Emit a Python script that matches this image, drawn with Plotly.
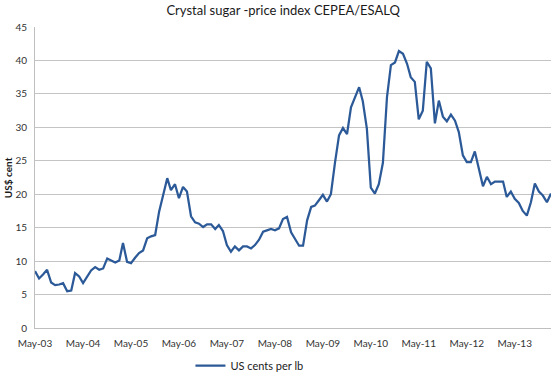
import plotly.graph_objects as go
import pandas as pd

start_month = "2003-05-01"
values = [
    8.5, 7.4, 8.0, 8.7, 6.8, 6.4, 6.5, 6.7, 5.5, 5.6, 8.2, 7.7,
    6.7, 7.6, 8.6, 9.1, 8.7, 8.9, 10.4, 10.1, 9.8, 10.1, 12.7, 9.9,
    9.7, 10.5, 11.2, 11.6, 13.4, 13.7, 13.9, 17.4, 19.9, 22.4, 20.6, 21.5,
    19.4, 21.1, 20.4, 16.7, 15.8, 15.6, 15.1, 15.5, 15.5, 14.8, 15.4, 14.5,
    12.4, 11.4, 12.2, 11.6, 12.2, 12.2, 11.9, 12.4, 13.2, 14.4, 14.6, 14.8,
    14.6, 14.9, 16.3, 16.6, 14.3, 13.3, 12.3, 12.3, 16.1, 18.1, 18.3, 19.1,
    19.9, 18.9, 20.0, 24.7, 28.8, 29.9, 29.0, 33.0, 34.6, 36.0, 33.9, 29.8,
    21.0, 20.1, 21.5, 24.7, 34.5, 39.3, 39.7, 41.4, 41.0, 39.5, 37.5, 36.8,
    31.2, 32.5, 39.8, 38.8, 30.6, 34.0, 31.6, 30.9, 31.9, 31.0, 29.3, 25.8,
    24.8, 24.8, 26.4, 23.8, 21.2, 22.6, 21.5, 21.9, 21.9, 21.9, 19.6, 20.4,
    19.3, 18.7, 17.5, 16.8, 18.8, 21.6, 20.4, 19.8, 18.8, 20.1,
]
dates = pd.date_range(start_month, periods=len(values), freq="MS")

tick_dates = pd.date_range("2003-05-01", "2013-05-01", freq="12MS")
tick_labels = ["May-03", "May-04", "May-05", "May-06", "May-07", "May-08",
               "May-09", "May-10", "May-11", "May-12", "May-13"]
y_ticks = [0, 5, 10, 15, 20, 25, 30, 35, 40, 45]

series_name = "US cents per lb"
title_text = "Crystal sugar -price index CEPEA/ESALQ"
y_title = "US$ cent"

fig = go.Figure()
fig.add_trace(go.Scatter(
    x=dates, y=values, mode="lines", name=series_name,
    line=dict(color="#2C5A98", width=2.25),
))

font_family = "Lato, Open Sans, sans-serif"
fig.update_layout(
    width=552, height=375,
    margin=dict(l=35, r=1, t=26.5, b=46.5, autoexpand=False),
    paper_bgcolor="white", plot_bgcolor="white",
    title=dict(text=title_text, x=0.513, xanchor="center", y=0.972, yanchor="middle",
               font=dict(family=font_family, size=13, color="#1a1a1a")),
    showlegend=True,
    legend=dict(orientation="h", xref="container", yref="container",
                x=0.345, xanchor="left", y=0.025, yanchor="middle",
                font=dict(family=font_family, size=11, color="#1a1a1a"),
                bgcolor="rgba(0,0,0,0)"),
    font=dict(family=font_family, size=10, color="#333333"),
    annotations=[dict(text="<b>" + y_title + "</b>", xref="paper", yref="paper",
                      x=-0.053, y=0.5, xanchor="center", yanchor="middle",
                      textangle=-90, showarrow=False,
                      font=dict(family=font_family, size=10, color="#1a1a1a"))],
)
fig.update_xaxes(
    range=[dates[0], dates[-1]], automargin=False,
    tickvals=tick_dates, ticktext=tick_labels,
    showgrid=False, showline=True, linecolor="#BFBFBF", linewidth=1,
    ticks="", tickfont=dict(size=10, color="#333333"), ticklabelstandoff=6,
    zeroline=False,
)
fig.update_yaxes(
    range=[0, 45], tickvals=y_ticks, automargin=False,
    showgrid=True, gridcolor="#C4C4C4", gridwidth=1,
    showline=True, linecolor="#BFBFBF", linewidth=1,
    ticks="", tickfont=dict(size=10, color="#333333"), ticklabelstandoff=5,
    zeroline=False,
)

fig.write_html("out.html", config={"displayModeBar": False},
               post_script="document.body.style.margin='0';document.body.style.padding='0';document.body.style.overflow='hidden';")
